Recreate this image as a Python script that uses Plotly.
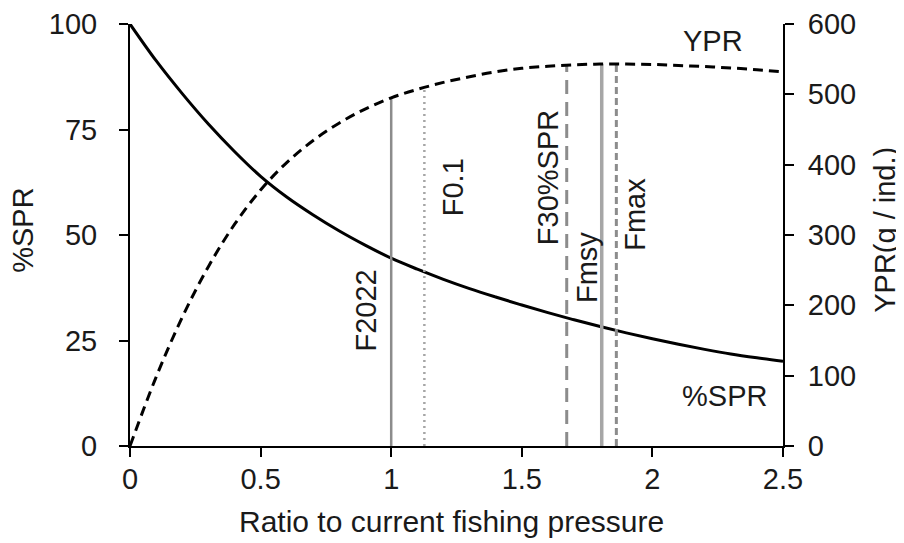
import plotly.graph_objects as go

# ratio to current fishing pressure
ratio = [0.0, 0.1, 0.2, 0.3, 0.4, 0.5, 0.6, 0.7, 0.8, 0.9, 1.0, 1.1, 1.2,
         1.3, 1.4, 1.5, 1.6, 1.7, 1.8, 1.9, 2.0, 2.1, 2.2, 2.3, 2.4, 2.5]
# %SPR (left axis)
spr = [100.0, 91.3, 83.5, 76.3, 69.8, 63.9, 59.0, 54.8, 51.0, 47.6, 44.5,
       41.9, 39.5, 37.3, 35.3, 33.4, 31.6, 29.9, 28.3, 26.8, 25.4, 24.1,
       22.9, 21.8, 20.9, 20.1]
# YPR g / ind. (right axis)
ypr = [0, 98, 183, 255, 315, 364, 403, 434, 459, 479, 495, 507, 517, 525,
       532, 537, 540, 542, 543, 543, 542.5, 541, 539.5, 537.5, 535, 532]

# reference points
ref_names = ["F2022", "F0.1", "F30%SPR", "Fmsy", "Fmax"]
ref_x = [1.0, 1.127, 1.672, 1.806, 1.862]
ref_ypr = [495, 510, 541, 543, 543]

FONT = "Liberation Sans, Arial, sans-serif"
TXT = "#1a1a1a"
SIZE = 29

fig = go.Figure()

ref_style = [
    dict(color="#8c8c8c", width=2.5, dash="solid"),
    dict(color="#a6a6a6", width=2.5, dash="2px,4px"),
    dict(color="#8c8c8c", width=3, dash="14px,8px"),
    dict(color="#a6a6a6", width=3.5, dash="solid"),
    dict(color="#8c8c8c", width=3, dash="7px,4px"),
]
for name, x, top, st in zip(ref_names, ref_x, ref_ypr, ref_style):
    fig.add_trace(go.Scatter(x=[x, x], y=[0, top], mode="lines", line=st,
                             yaxis="y2", name=name, showlegend=False,
                             hoverinfo="skip"))

fig.add_trace(go.Scatter(x=ratio, y=spr, mode="lines", name="%SPR",
                         line=dict(color="black", width=3, shape="spline"),
                         showlegend=False))
fig.add_trace(go.Scatter(x=ratio, y=ypr, mode="lines", name="YPR", yaxis="y2",
                         line=dict(color="black", width=3, dash="10px,6px",
                                   shape="spline"),
                         showlegend=False))

# rotated labels for reference points (x, %SPR-axis y)
lab_x = [0.902, 1.238, 1.601, 1.750, 1.933]
lab_y = [32, 61.4, 63.5, 42.2, 55]
for name, x, y in zip(ref_names, lab_x, lab_y):
    fig.add_annotation(x=x, y=y, text=name, textangle=-90, showarrow=False,
                       font=dict(size=SIZE, color=TXT, family=FONT))

fig.add_annotation(x=2.232, y=96, text="YPR", showarrow=False,
                   font=dict(size=SIZE, color=TXT, family=FONT))
fig.add_annotation(x=2.277, y=11.8, text="%SPR", showarrow=False,
                   font=dict(size=SIZE, color=TXT, family=FONT))

# axis titles
title_font = dict(size=SIZE, color=TXT, family=FONT)
fig.add_annotation(xref="paper", yref="paper", x=0.493, y=-0.18,
                   xanchor="center", yanchor="middle",
                   text="Ratio to current fishing pressure", showarrow=False,
                   font=dict(size=30, color=TXT, family=FONT))
fig.add_annotation(xref="paper", yref="paper", x=-0.164, y=0.512, textangle=-90,
                   xanchor="center", yanchor="middle",
                   text="%SPR", showarrow=False, font=title_font)
fig.add_annotation(xref="paper", yref="paper", x=1.156, y=0.512, textangle=-90,
                   xanchor="center", yanchor="middle",
                   text="YPR(g / ind.)", showarrow=False, font=title_font)

axis_common = dict(showline=True, linecolor="black", linewidth=2,
                   ticks="outside", ticklen=9, tickwidth=2, tickcolor="black",
                   showgrid=False, zeroline=False, automargin=False,
                   tickfont=dict(size=SIZE, color=TXT, family=FONT))

# page body keeps an 8px margin, so the figure is sized to fit inside it
fig.update_layout(
    width=896, height=535,
    margin=dict(l=122, r=121, t=16, b=97),
    plot_bgcolor="white", paper_bgcolor="white",
    xaxis=dict(range=[0, 2.5], tickvals=[0, 0.5, 1, 1.5, 2, 2.5],
               ticktext=["0", "0.5", "1", "1.5", "2", "2.5"],
               ticklabelstandoff=-3, **axis_common),
    yaxis=dict(range=[0, 100], tickvals=[0, 25, 50, 75, 100],
               ticklabelstandoff=16, **axis_common),
    yaxis2=dict(range=[0, 600], tickvals=[0, 100, 200, 300, 400, 500, 600],
                overlaying="y", side="right", ticklabelstandoff=8,
                **axis_common),
)

fig.write_html("out.html")
